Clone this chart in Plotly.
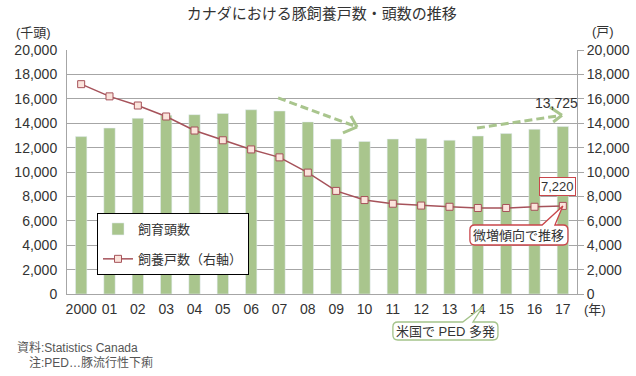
import plotly.graph_objects as go

# ---------------- data ----------------
years = list(range(2000, 2018))
year_labels = ["2000", "01", "02", "03", "04", "05", "06", "07", "08",
               "09", "10", "11", "12", "13", "14", "15", "16", "17"]
head_counts = [12900, 13600, 14400, 14650, 14700, 14800, 15100, 15000, 14100,
               12700, 12500, 12700, 12750, 12600, 12950, 13150, 13500, 13725]
farm_counts = [17200, 16200, 15450, 14550, 13400, 12600, 11850, 11200, 9950,
               8450, 7700, 7400, 7250, 7150, 7050, 7050, 7150, 7220]
y_ticks = list(range(0, 20001, 2000))

FONT = "Liberation Sans, Noto Sans CJK JP, sans-serif"
BAR = "#a9c58d"
LINE = "#a6525a"
RED = "#c9464b"
GREEN_BORDER = "#a4c38a"
ARROW = "#a9c58d"
TXT = "#333333"
GRID = "#a6a6a6"

fig = go.Figure()
fig.add_trace(go.Bar(
    x=years, y=head_counts, name="飼育頭数", marker_color=BAR,
    width=0.4, legendgroup="a", yaxis="y"))
fig.add_trace(go.Scatter(
    x=years, y=farm_counts, name="飼養戸数（右軸）", mode="lines+markers",
    line=dict(color=LINE, width=1.5),
    marker=dict(symbol="square", size=7, color="#fbe4dc",
                line=dict(color=LINE, width=1)),
    legendgroup="b", yaxis="y2"))

shapes = []
# dashed trend arrows (left-axis data coords)
def arrow(x0, y0, x1, y1, a1, a2):
    shapes.append(dict(type="line", xref="x", yref="y", x0=x0, y0=y0, x1=x1, y1=y1,
                       line=dict(color=ARROW, width=3, dash="8px,4px")))
    for (ax, ay) in (a1, a2):
        shapes.append(dict(type="line", xref="x", yref="y", x0=ax, y0=ay, x1=x1, y1=y1,
                           line=dict(color=ARROW, width=3)))

arrow(2006.95, 16070, 2009.74, 13690, (2009.52, 14590), (2009.24, 13200))
arrow(2013.97, 13600, 2016.97, 14650, (2016.55, 15300), (2016.66, 14100))

# callout "微増傾向で推移" (right-axis data coords)
x0, x1, yt, yb = 2013.72, 2017.18, 5656, 4016
rx, ry = 0.17, 400
tipx, tipy = years[-1], farm_counts[-1]
bl, br = 2016.27, 2016.72
path = (f"M {x0+rx},{yt} L {bl},{yt} L {tipx},{tipy} L {br},{yt} L {x1-rx},{yt} "
        f"Q {x1},{yt} {x1},{yt-ry} L {x1},{yb+ry} Q {x1},{yb} {x1-rx},{yb} "
        f"L {x0+rx},{yb} Q {x0},{yb} {x0},{yb+ry} L {x0},{yt-ry} Q {x0},{yt} {x0+rx},{yt} Z")
shapes.append(dict(type="path", xref="x", yref="y2", path=path,
                   fillcolor="white", line=dict(color=RED, width=1.3)))

# callout "米国で PED 多発" (paper coords, below axis)
px0, px1, pyt, pyb = 0.639, 0.845, -0.1148, -0.1885
prx, pry = 0.0098, 0.02
ptip = (0.816, -0.05)
pbl, pbr = 0.776, 0.796
path2 = (f"M {px0+prx},{pyt} L {pbl},{pyt} L {ptip[0]},{ptip[1]} L {pbr},{pyt} L {px1-prx},{pyt} "
         f"Q {px1},{pyt} {px1},{pyt-pry} L {px1},{pyb+pry} Q {px1},{pyb} {px1-prx},{pyb} "
         f"L {px0+prx},{pyb} Q {px0},{pyb} {px0},{pyb+pry} L {px0},{pyt-pry} Q {px0},{pyt} {px0+prx},{pyt} Z")
shapes.append(dict(type="path", xref="paper", yref="paper", path=path2,
                   fillcolor="white", line=dict(color=GREEN_BORDER, width=1.3)))

annotations = [
    dict(text="(千頭)", xref="paper", yref="paper", x=-0.065, y=1.07,
         xanchor="center", yanchor="middle", showarrow=False,
         font=dict(size=13, color=TXT, family=FONT)),
    dict(text="(戸)", xref="paper", yref="paper", x=1.05, y=1.075,
         xanchor="center", yanchor="middle", showarrow=False,
         font=dict(size=13, color=TXT, family=FONT)),
    dict(text="(年)", xref="paper", yref="paper", x=1.035, y=-0.064,
         xanchor="center", yanchor="middle", showarrow=False,
         font=dict(size=13, color=TXT, family=FONT)),
    dict(text="13,725", xref="x", yref="y", x=2016.79, y=15650,
         xanchor="center", yanchor="middle", showarrow=False,
         font=dict(size=14, color=TXT, family=FONT)),
    dict(text="7,220", xref="x", yref="y2", x=2016.81, y=8800,
         xanchor="center", yanchor="middle", showarrow=False,
         bordercolor=RED, borderwidth=1, borderpad=1, bgcolor="white",
         font=dict(size=13, color=TXT, family=FONT)),
    dict(text="微増傾向で推移", xref="x", yref="y2", x=(x0 + x1) / 2, y=(yt + yb) / 2,
         xanchor="center", yanchor="middle", showarrow=False,
         font=dict(size=13, color=TXT, family=FONT)),
    dict(text="米国で PED 多発", xref="paper", yref="paper", x=(px0 + px1) / 2, y=(pyt + pyb) / 2,
         xanchor="center", yanchor="middle", showarrow=False,
         font=dict(size=13, color=TXT, family=FONT)),
    dict(text="資料:Statistics Canada", xref="paper", yref="paper", x=-0.102, y=-0.221,
         xanchor="left", yanchor="middle", showarrow=False,
         font=dict(size=12, color="#555555", family=FONT)),
    dict(text="注:PED…豚流行性下痢", xref="paper", yref="paper", x=-0.078, y=-0.283,
         xanchor="left", yanchor="middle", showarrow=False,
         font=dict(size=12, color="#555555", family=FONT)),
]

fig.update_layout(
    width=636, height=376, autosize=False,
    margin=dict(l=67, r=59, t=50, b=82, autoexpand=False),
    paper_bgcolor="white", plot_bgcolor="white",
    font=dict(family=FONT, color=TXT, size=14),
    title=dict(text="カナダにおける豚飼養戸数・頭数の推移", x=0.506, xref="container",
               xanchor="center", y=0.963, yanchor="middle",
               font=dict(size=15, color=TXT, family=FONT)),
    bargap=0.6,
    xaxis=dict(range=[1999.5, 2017.5], tickvals=years, ticktext=year_labels,
               showgrid=False, zeroline=False, showline=True, linecolor=GRID,
               ticks="outside", ticklen=2, tickcolor="rgba(0,0,0,0)",
               tickfont=dict(size=14, color=TXT)),
    yaxis=dict(range=[0, 20000], tickvals=y_ticks, tickformat=",",
               showgrid=True, gridcolor=GRID, gridwidth=1, zeroline=False,
               showline=True, linecolor=GRID,
               ticks="outside", ticklen=6, tickcolor="rgba(0,0,0,0)",
               tickfont=dict(size=14, color=TXT)),
    yaxis2=dict(range=[0, 20000], tickvals=y_ticks, tickformat=",",
                overlaying="y", side="right", showgrid=False, zeroline=False,
                showline=True, linecolor=GRID,
                ticks="outside", ticklen=6, tickcolor=GRID,
                tickfont=dict(size=14, color=TXT)),
    legend=dict(x=0.0588, y=0.332, xanchor="left", yanchor="top",
                bgcolor="white", bordercolor="black", borderwidth=1,
                traceorder="grouped", tracegroupgap=10, itemwidth=30,
                font=dict(size=13, color=TXT, family=FONT)),
    shapes=shapes,
    annotations=annotations,
)

fig.write_html("out.html",
               config={"displayModeBar": False},
               post_script="document.body.style.margin='0';document.body.style.overflow='hidden';")
